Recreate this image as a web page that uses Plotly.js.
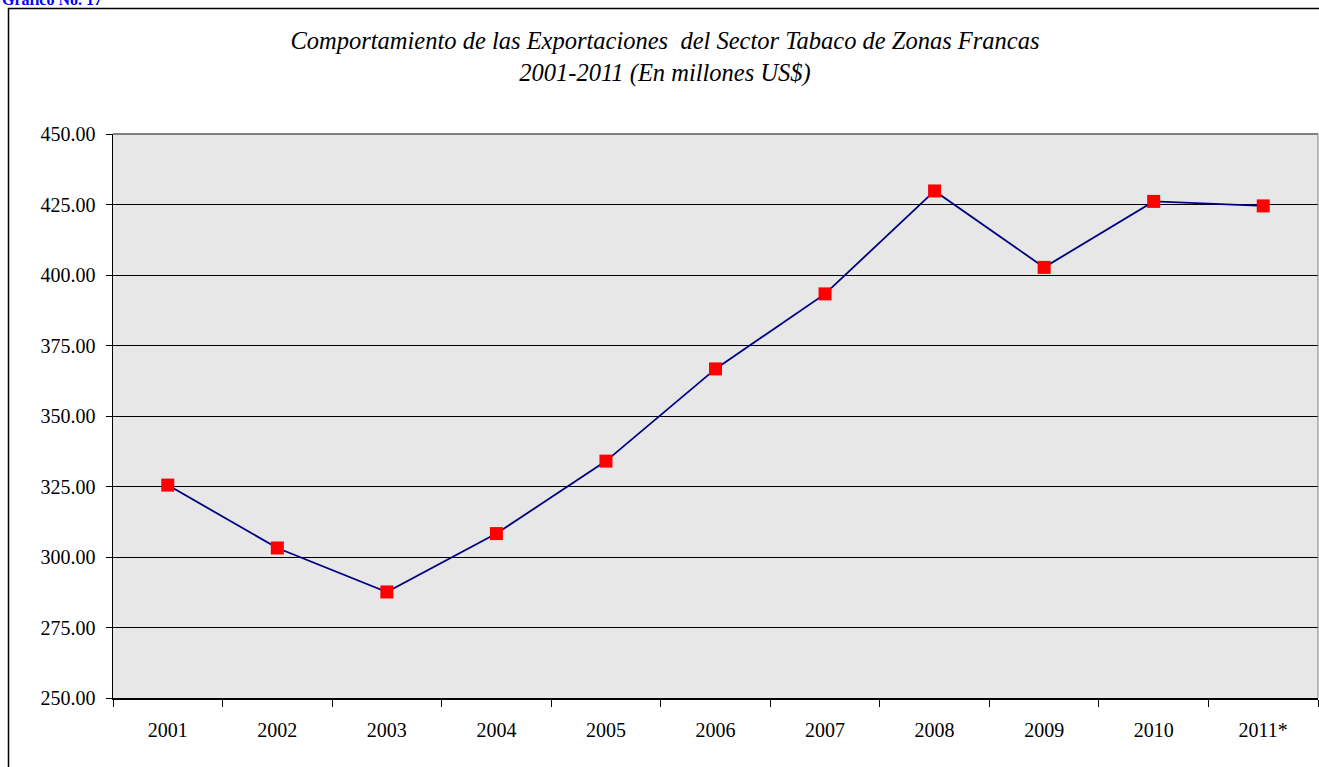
<!DOCTYPE html>
<html><head><meta charset="utf-8">
<script src="https://cdn.plot.ly/plotly-3.0.1.min.js"></script>
<style>html,body{margin:0;padding:0;background:#fff;}#chart{width:1319px;height:767px;}</style>
</head><body><div id="chart"></div>
<script>
const years = ["2001","2002","2003","2004","2005","2006","2007","2008","2009","2010","2011*"];
const exportsMUSD = [325.5, 303.2, 287.6, 308.3, 334.0, 366.7, 393.3, 429.8, 402.7, 426.1, 424.5];
const yTicks = [250,275,300,325,350,375,400,425,450];

const W=1319,H=767,L=113,R=1,T=134,B=69;
const pw=W-L-R, ph=H-T-B;
const px=x=>(x-L)/pw, py=y=>(H-B-y)/ph;
const serif='Liberation Serif, Times New Roman, serif';

const trace = {
  x: years, y: exportsMUSD, type:'scatter', mode:'lines+markers',
  line:{color:'#000080', width:1.8},
  marker:{symbol:'square', size:13, color:'#ff0000', line:{width:0}},
  cliponaxis:false, hoverinfo:'x+y'
};

const layout = {
  width:W, height:H,
  margin:{l:L,r:R,t:T,b:B},
  paper_bgcolor:'#ffffff',
  plot_bgcolor:'#e7e7e7',
  showlegend:false,
  font:{family:serif, color:'#000'},
  title:{text:'<i>Comportamiento de las Exportaciones  del Sector Tabaco de Zonas Francas<br>2001-2011 (En millones US$)</i>',
    x:(665)/W, xref:'container', xanchor:'center', y:1-49/H, yref:'container', yanchor:'middle', font:{size:24.5, family:serif, color:'#000'}},
  xaxis:{type:'category', tickson:'boundaries', ticks:'outside', ticklen:7, tickcolor:'#000', tickwidth:1,
    showgrid:false, showline:true, linecolor:'#000', linewidth:1.5, tickfont:{size:20, family:serif}, ticklabelstandoff:13, zeroline:false,
    range:[-0.5,10.5]},
  yaxis:{range:[250,450], tickvals:yTicks, ticktext:yTicks.map(v=>v.toFixed(2)), ticks:'outside', ticklen:6, tickcolor:'#000',
    showgrid:true, gridcolor:'#000', gridwidth:1, showline:true, linecolor:'#000', linewidth:1.5, tickfont:{size:20, family:serif},
    ticklabelstandoff:6, zeroline:false},
  shapes:[
    {type:'rect', xref:'paper', yref:'paper', x0:px(8.5), x1:px(1330), y0:py(8.5), y1:py(780), line:{color:'#000', width:1.5}, fillcolor:'rgba(0,0,0,0)', layer:'below'},
    {type:'line', xref:'paper', yref:'paper', x0:0, x1:1, y0:1, y1:1, line:{color:'#808080', width:2}},
    {type:'line', xref:'paper', yref:'paper', x0:1, x1:1, y0:0, y1:1, line:{color:'#808080', width:1}}
  ],
  annotations:[
    {text:'<b>Gráfico No. 17</b>', xref:'paper', yref:'paper', x:px(0), y:py(-1), xanchor:'left', yanchor:'middle', showarrow:false,
     font:{size:16, color:'#0000ff', family:serif}}
  ]
};
Plotly.newPlot('chart',[trace],layout,{displayModeBar:false,staticPlot:true});
</script></body></html>
